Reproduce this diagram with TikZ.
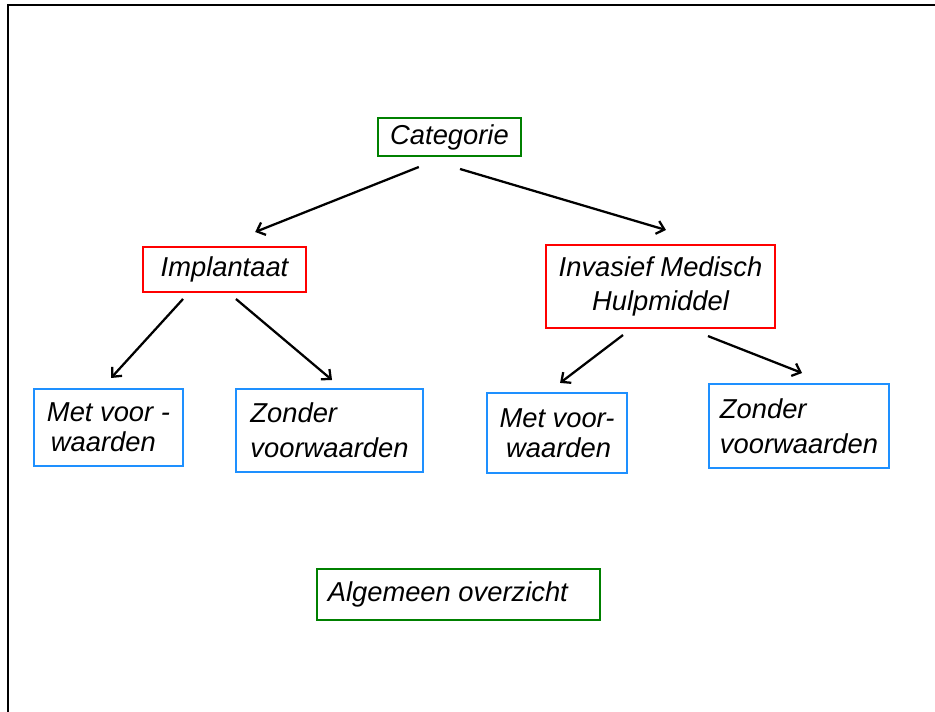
\documentclass[tikz,border=0pt]{standalone}
\usepackage{fontspec}
\setmainfont{Liberation Sans}
\usepackage{tikz}
\usetikzlibrary{arrows.meta}

\definecolor{boxgreen}{RGB}{0,128,0}
\definecolor{boxred}{RGB}{255,0,0}
\definecolor{boxblue}{RGB}{30,144,255}

\begin{document}
\begin{tikzpicture}[x=0.75pt, y=-0.75pt,
	box/.style={draw, line width=1.5pt, anchor=north west, inner sep=0pt,
		font=\fontsize{20.5}{26}\selectfont\itshape},
	topbox/.style={box, draw=boxgreen},
	midbox/.style={box, draw=boxred, align=center},
	leafbox/.style={box, draw=boxblue, align=left},
	arr/.style={line width=1.7pt, -{Straight Barb[length=5.5pt,width=10pt]}}]
			%%%%% START %%%%%
			
			\useasboundingbox (0, 0) rectangle (935, 712);
			
			\draw[line width=2.2pt] (8, 712) -- (8, 5) -- (935, 5);
			
			\node[topbox, minimum width=107.25pt, minimum height=28.5pt] (cat) at (377, 117) {Categorie};
			
			\node[midbox, minimum width=122.25pt, minimum height=33.75pt] (impl) at (142, 246) {Implantaat};
			\node[midbox, minimum width=171.75pt, minimum height=62.25pt] (inv) at (545, 244) {Invasief Medisch\\Hulpmiddel};
			
			\node[leafbox, minimum width=111.75pt, minimum height=57.75pt, font=\fontsize{20.5}{22.5}\selectfont\itshape] (met1) at (33, 388) {Met voor -\\\hspace*{3pt}waarden};
			\node[leafbox, minimum width=140.25pt, minimum height=62.25pt] (zon1) at (235, 388) {Zonder\\voorwaarden};
			\node[leafbox, minimum width=105pt, minimum height=60pt, font=\fontsize{20.5}{22.5}\selectfont\itshape] (met2) at (486, 392) {Met voor-\\\hspace*{5pt}waarden};
			\node[leafbox, minimum width=135pt, minimum height=63pt] (zon2) at (708, 383) {Zonder\\voorwaarden};
			
			\node[topbox, minimum width=212.25pt, minimum height=38.25pt] (alg) at (316, 568) {Algemeen overzicht\kern16pt\relax};
			
			\draw[arr] ([shift={(-23pt,-7.5pt)}]cat.south) -- ([shift={(23pt,10.5pt)}]impl.north);
			\draw[arr] ([shift={(7.9pt,-9pt)}]cat.south) -- ([shift={(4.1pt,10.5pt)}]inv.north);
			
			\draw[arr] ([shift={(-31.1pt,-4.5pt)}]impl.south) -- ([shift={(1.9pt,7.5pt)}]met1.north);
			\draw[arr] ([shift={(8.6pt,-4.5pt)}]impl.south) -- ([shift={(1.9pt,6pt)}]zon1.north);
			\draw[arr] ([shift={(-28.1pt,-4.5pt)}]inv.south) -- ([shift={(2.3pt,6.8pt)}]met2.north);
			\draw[arr] ([shift={(35.6pt,-5.3pt)}]inv.south) -- ([shift={(2.3pt,7.5pt)}]zon2.north);
			
			%%%%% END %%%%%
\end{tikzpicture}
\end{document}
